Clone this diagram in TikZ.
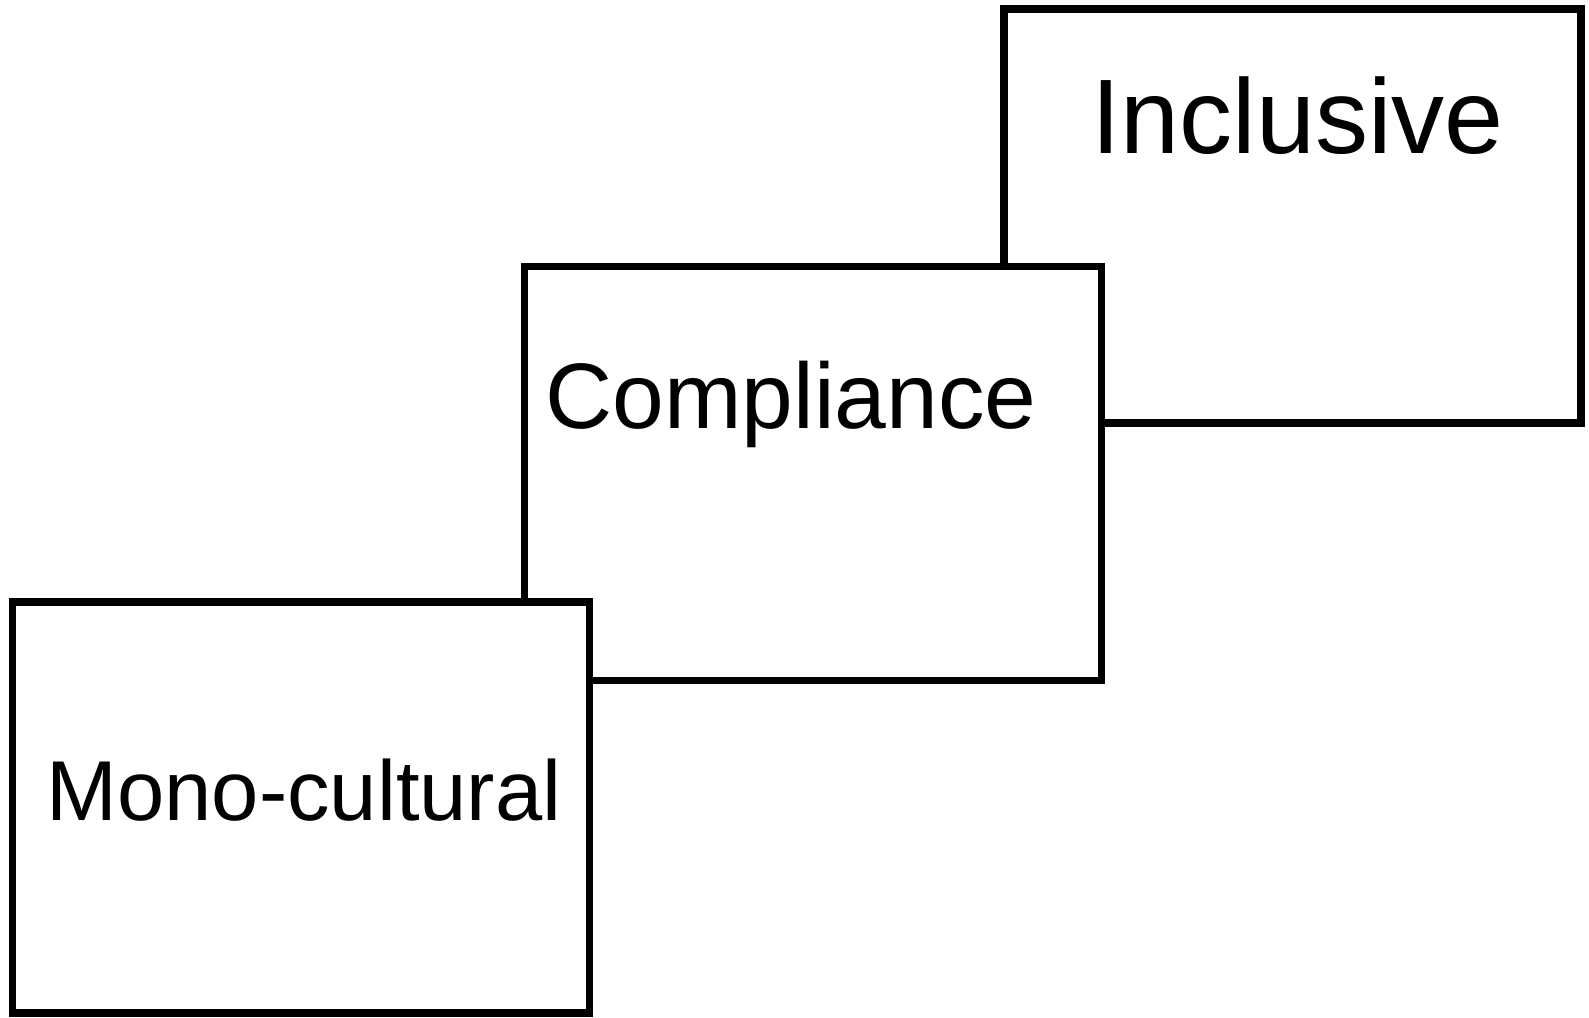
\documentclass[tikz,border=0pt]{standalone}
\usepackage{fontspec}
\setmainfont{Liberation Sans}
\usepackage{tikz}
\usetikzlibrary{calc,positioning}
\tikzset{
  stage/.style={draw=black, fill=white, line width=7.5pt, rectangle,
    minimum width=577pt, minimum height=414pt, inner sep=0pt},
  lab/.style={anchor=base, inner sep=0pt, text=black},
}

\begin{document}
\begin{tikzpicture}[x=1pt,y=-1pt]
  \useasboundingbox (0,0) rectangle (1589,1017);
  % back to front
  \node[stage] (incl) at (1292.5,216) {};
  \node[lab,font=\fontsize{106}{120}\selectfont] (incltxt) at ($(incl.north)+(5,148)$) {Inclusive};
  \node[stage] (comp) at (813,473.5) {};
  \node[lab,font=\fontsize{93}{110}\selectfont] (comptxt) at ($(comp.north)+(-22,166)$) {Compliance};
  \node[stage,minimum height=411pt] (mono) at (301,807.5) {};
  \node[lab,font=\fontsize{85}{100}\selectfont] (monotxt) at ($(mono.north)+(3,222)$) {Mono-cultural};
\end{tikzpicture}
\end{document}
